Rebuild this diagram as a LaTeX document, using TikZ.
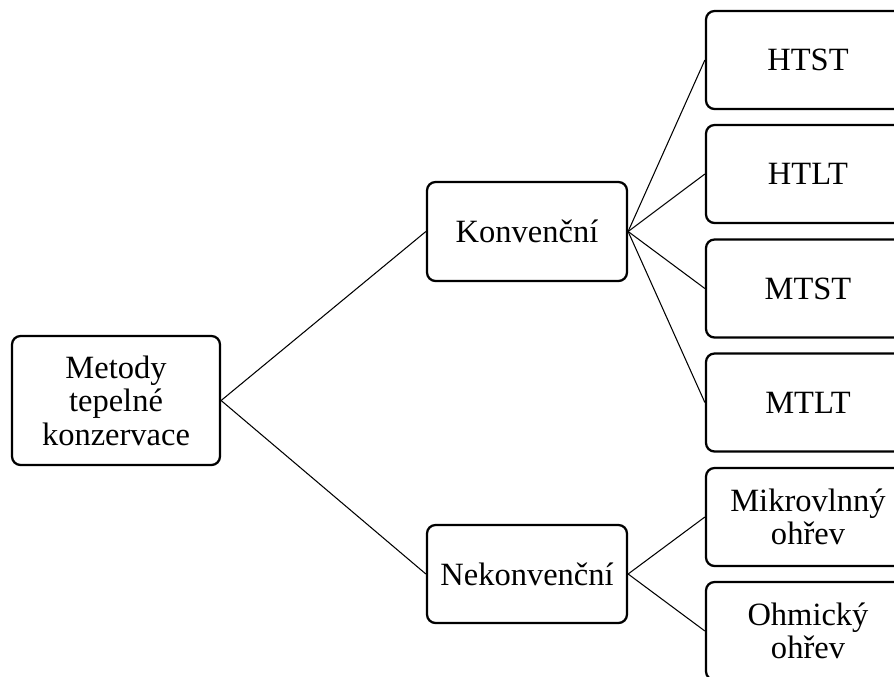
\documentclass[tikz,border=0pt]{standalone}
\usepackage{fontspec}
\setmainfont{Liberation Serif}
\begin{document}
\begin{tikzpicture}[x=0.02cm, y=-0.02cm,
		box/.style={draw, line width=1.3pt, rounded corners=0.17cm, align=center, inner sep=0pt,
			font=\fontsize{18.5}{19}\selectfont},
		link/.style={line width=0.6pt}]
		\useasboundingbox (0, 0) rectangle (894, 677);
		\clip (0, 0) rectangle (894, 677);

		% Define the vertices
		\node[box, minimum width=4.16cm, minimum height=2.58cm] (root) at (116, 400.5) {Metody\\tepelné\\konzervace};
		\node[box, minimum width=4cm, minimum height=1.98cm] (konv) at (527, 231.5) {Konvenční};
		\node[box, minimum width=4cm, minimum height=1.96cm] (nekonv) at (527, 574) {Nekonvenční};

		\node[box, minimum width=4.08cm, minimum height=1.96cm] (htst) at (808, 60) {HTST};
		\node[box, minimum width=4.08cm, minimum height=1.96cm] (htlt) at (808, 174) {HTLT};
		\node[box, minimum width=4.08cm, minimum height=1.96cm] (mtst) at (808, 288.5) {MTST};
		\node[box, minimum width=4.08cm, minimum height=1.96cm] (mtlt) at (808, 402.5) {MTLT};
		\node[box, minimum width=4.08cm, minimum height=1.96cm] (mikro) at (808, 517) {Mikrovlnný\\ohřev};
		\node[box, minimum width=4.08cm, minimum height=1.96cm] (ohm) at (808, 631) {Ohmický\\ohřev};

		% Define the edges
		\draw[link] (root.east) -- (konv.west);
		\draw[link] (root.east) -- (nekonv.west);
		\draw[link] (konv.east) -- (htst.west);
		\draw[link] (konv.east) -- (htlt.west);
		\draw[link] (konv.east) -- (mtst.west);
		\draw[link] (konv.east) -- (mtlt.west);
		\draw[link] (nekonv.east) -- (mikro.west);
		\draw[link] (nekonv.east) -- (ohm.west);
	\end{tikzpicture}
\end{document}
